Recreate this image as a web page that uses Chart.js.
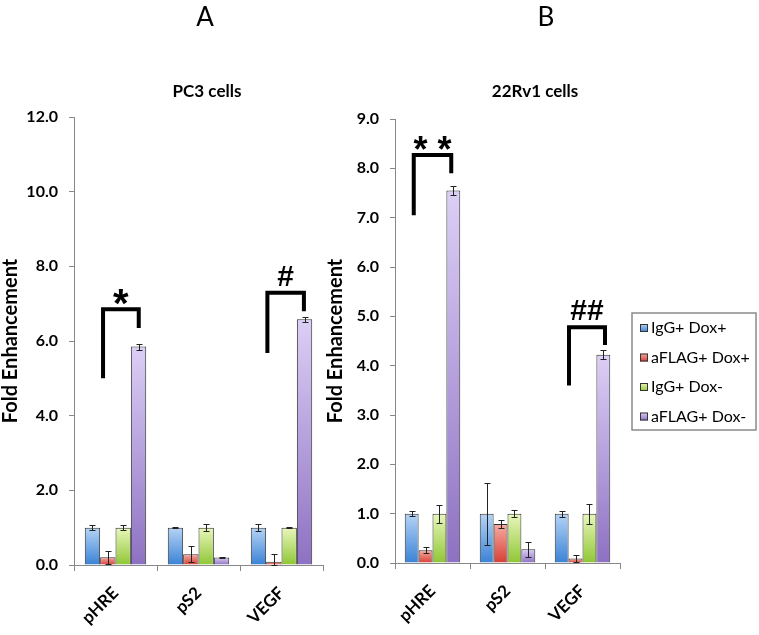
<!DOCTYPE html>
<html>
<head>
<meta charset="utf-8">
<script src="https://cdn.jsdelivr.net/npm/chart.js@4.4.1/dist/chart.umd.min.js"></script>
<style>
  body { margin: 0; background: #fff; }
  #wrap { position: relative; width: 759px; height: 635px; }
  #boxA { position: absolute; left: 0; top: 0; width: 325px; height: 635px; }
  #boxB { position: absolute; left: 325px; top: 0; width: 434px; height: 635px; }
</style>
</head>
<body>
<div id="wrap">
  <div id="boxA"><canvas id="chartA"></canvas></div>
  <div id="boxB"><canvas id="chartB"></canvas></div>
</div>
<script>
// categories and series
const categories = ["pHRE", "pS2", "VEGF"];
const seriesLabels = ["IgG+ Dox+", "aFLAG+ Dox+", "IgG+ Dox-", "aFLAG+ Dox-"];

// PC3 cells (panel A)
const pc3IgGDoxPlus = [1.0, 1.0, 1.0];
const pc3IgGDoxPlusErr = [0.07, 0.01, 0.1];
const pc3FlagDoxPlus = [0.21, 0.29, 0.09];
const pc3FlagDoxPlusErr = [0.17, 0.22, 0.2];
const pc3IgGDoxMinus = [1.0, 1.0, 1.0];
const pc3IgGDoxMinusErr = [0.07, 0.09, 0.01];
const pc3FlagDoxMinus = [5.85, 0.2, 6.58];
const pc3FlagDoxMinusErr = [0.08, 0.02, 0.06];

// 22Rv1 cells (panel B)
const rvIgGDoxPlus = [1.0, 1.0, 1.0];
const rvIgGDoxPlusErr = [0.05, 0.63, 0.06];
const rvFlagDoxPlus = [0.26, 0.79, 0.09];
const rvFlagDoxPlusErr = [0.06, 0.09, 0.07];
const rvIgGDoxMinus = [1.0, 1.0, 1.0];
const rvIgGDoxMinusErr = [0.18, 0.07, 0.2];
const rvFlagDoxMinus = [7.55, 0.28, 4.22];
const rvFlagDoxMinusErr = [0.1, 0.15, 0.09];

// significance brackets: category index, offsets, heights in data units
const bracketsA = [
  { cat: 0, x1: -0.15, x2: 0.28, top: 6.85, left: 5.0, right: 6.35, text: "*", size: 40, gap: 4 },
  { cat: 2, x1: -0.17, x2: 0.27, top: 7.29, left: 5.68, right: 6.8, text: "#", size: 30, gap: 7 }
];
const bracketsB = [
  { cat: 0, x1: -0.25, x2: 0.25, top: 8.27, left: 7.05, right: 7.9, text: "* *", size: 36, gap: 5 },
  { cat: 2, x1: -0.18, x2: 0.3, top: 4.78, left: 3.6, right: 4.42, text: "##", size: 30, gap: 7 }
];

const shades = [
  ["#b6d4f5", "#3a82d6"],
  ["#f6aca3", "#d63f35"],
  ["#e9f7bc", "#8fc635"],
  ["#dccff5", "#8d71c2"]
];

function barFill(pair) {
  return function (ctx) {
    const chart = ctx.chart;
    if (!chart.chartArea || ctx.type !== "data") return pair[1];
    const y = chart.scales.y;
    const v = ctx.dataset.data[ctx.dataIndex];
    const top = y.getPixelForValue(v);
    const base = y.getPixelForValue(0);
    if (base - top < 1) return pair[1];
    const g = chart.ctx.createLinearGradient(0, top, 0, base);
    g.addColorStop(0, pair[0]);
    g.addColorStop(1, pair[1]);
    return g;
  };
}

function makeSets(values, errors) {
  return values.map((vals, i) => ({
    label: seriesLabels[i],
    data: vals,
    errors: errors[i],
    backgroundColor: barFill(shades[i]),
    borderColor: "#333",
    borderWidth: 1,
    categoryPercentage: 0.74,
    barPercentage: 1.0
  }));
}

const errorBars = {
  id: "errorBars",
  afterDatasetsDraw(chart) {
    const ctx = chart.ctx;
    const y = chart.scales.y;
    ctx.save();
    ctx.strokeStyle = "#222";
    ctx.lineWidth = 1;
    chart.data.datasets.forEach((ds, i) => {
      chart.getDatasetMeta(i).data.forEach((bar, j) => {
        const v = ds.data[j], e = ds.errors[j];
        const hi = Math.round(y.getPixelForValue(v + e)) + 0.5;
        const lo = Math.round(y.getPixelForValue(Math.max(0, v - e))) + 0.5;
        const x = Math.round(bar.x) + 0.5;
        ctx.beginPath();
        ctx.moveTo(x, hi); ctx.lineTo(x, lo);
        ctx.moveTo(x - 3, hi); ctx.lineTo(x + 3, hi);
        ctx.moveTo(x - 3, lo); ctx.lineTo(x + 3, lo);
        ctx.stroke();
      });
    });
    ctx.restore();
  }
};

const sigBrackets = {
  id: "sigBrackets",
  afterDraw(chart, args, opts) {
    const ctx = chart.ctx;
    const xs = chart.scales.x, ys = chart.scales.y;
    ctx.save();
    ctx.strokeStyle = "#000";
    ctx.fillStyle = "#000";
    ctx.lineWidth = 4;
    ctx.lineJoin = "miter";
    (opts.items || []).forEach(b => {
      const xl = xs.getPixelForValue(b.cat + b.x1);
      const xr = xs.getPixelForValue(b.cat + b.x2);
      const yt = ys.getPixelForValue(b.top);
      ctx.beginPath();
      ctx.moveTo(xl, ys.getPixelForValue(b.left));
      ctx.lineTo(xl, yt);
      ctx.lineTo(xr, yt);
      ctx.lineTo(xr, ys.getPixelForValue(b.right));
      ctx.stroke();
      ctx.font = "bold " + b.size + "px 'Liberation Sans', Arial, sans-serif";
      ctx.textAlign = "center";
      ctx.textBaseline = "alphabetic";
      const m = ctx.measureText(b.text);
      const h = m.actualBoundingBoxAscent + m.actualBoundingBoxDescent;
      const cy = yt - b.gap - h / 2;
      ctx.fillText(b.text, (xl + xr) / 2, cy + (m.actualBoundingBoxAscent - m.actualBoundingBoxDescent) / 2);
    });
    ctx.restore();
  }
};

const panelText = {
  id: "panelText",
  afterDraw(chart, args, opts) {
    const ctx = chart.ctx;
    ctx.save();
    ctx.fillStyle = "#000";
    ctx.textAlign = "center";
    ctx.textBaseline = "middle";
    (opts.items || []).forEach(t => {
      ctx.font = t.font;
      ctx.fillText(t.text, t.x, t.y);
    });
    if (opts.legend) {
      const L = opts.legend;
      ctx.strokeStyle = "#8a8a8a";
      ctx.lineWidth = 1.5;
      ctx.strokeRect(L.x, L.y, L.w, L.h);
      ctx.font = "16px Lato, 'Open Sans', sans-serif";
      ctx.textAlign = "left";
      seriesLabels.forEach((lab, i) => {
        const cy = L.y + 15 + i * 29.5;
        const g = ctx.createLinearGradient(0, cy - 4, 0, cy + 4);
        g.addColorStop(0, shades[i][0]);
        g.addColorStop(1, shades[i][1]);
        ctx.fillStyle = g;
        ctx.fillRect(L.x + 8, cy - 4, 8, 8);
        ctx.strokeStyle = "#333";
        ctx.lineWidth = 1;
        ctx.strokeRect(L.x + 8.5, cy - 3.5, 7, 7);
        ctx.fillStyle = "#000";
        ctx.fillText(lab, L.x + 19, cy);
      });
    }
    ctx.restore();
  }
};

function axisOptions(max, yWidth, xHeight) {
  return {
    x: {
      offset: true,
      grid: { offset: true, drawOnChartArea: false, tickLength: 6, color: "#888" },
      border: { color: "#888", width: 1 },
      ticks: {
        minRotation: 45, maxRotation: 45, padding: 12, color: "#000",
        font: { family: "Lato", weight: "bold", size: 17 }
      },
      afterFit: s => { s.height = xHeight; }
    },
    y: {
      min: 0, max: max,
      grid: { drawOnChartArea: false, tickLength: 5, color: "#888" },
      border: { color: "#888", width: 1 },
      ticks: {
        stepSize: max > 10 ? 2 : 1, padding: 11, color: "#000",
        font: { family: "Lato", weight: "bold", size: 16 },
        callback: v => v.toFixed(1)
      },
      title: {
        display: true, text: "Fold Enhancement", color: "#000",
        font: { family: "Lato", weight: "bold", size: 20, lineHeight: 1.1 },
        padding: { top: 0, bottom: 0 }
      },
      afterFit: s => { s.width = yWidth; }
    }
  };
}

Chart.defaults.devicePixelRatio = 1;

new Chart(document.getElementById("chartA"), {
  type: "bar",
  data: {
    labels: categories,
    datasets: makeSets(
      [pc3IgGDoxPlus, pc3FlagDoxPlus, pc3IgGDoxMinus, pc3FlagDoxMinus],
      [pc3IgGDoxPlusErr, pc3FlagDoxPlusErr, pc3IgGDoxMinusErr, pc3FlagDoxMinusErr]
    )
  },
  options: {
    responsive: true,
    maintainAspectRatio: false,
    animation: false,
    layout: { padding: { top: 117, right: 2, left: 0, bottom: 0 } },
    scales: axisOptions(12, 74, 70),
    plugins: {
      legend: { display: false },
      tooltip: { enabled: false },
      sigBrackets: { items: bracketsA },
      panelText: {
        items: [
          { text: "A", x: 205, y: 18, font: "26px Lato, sans-serif" },
          { text: "PC3 cells", x: 207, y: 92, font: "bold 17px Lato, sans-serif" }
        ]
      }
    }
  },
  plugins: [errorBars, sigBrackets, panelText]
});

new Chart(document.getElementById("chartB"), {
  type: "bar",
  data: {
    labels: categories,
    datasets: makeSets(
      [rvIgGDoxPlus, rvFlagDoxPlus, rvIgGDoxMinus, rvFlagDoxMinus],
      [rvIgGDoxPlusErr, rvFlagDoxPlusErr, rvIgGDoxMinusErr, rvFlagDoxMinusErr]
    )
  },
  options: {
    responsive: true,
    maintainAspectRatio: false,
    animation: false,
    layout: { padding: { top: 119, right: 139, left: 0, bottom: 0 } },
    scales: axisOptions(9, 70, 72),
    plugins: {
      legend: { display: false },
      tooltip: { enabled: false },
      sigBrackets: { items: bracketsB },
      panelText: {
        items: [
          { text: "B", x: 221, y: 18, font: "26px Lato, sans-serif" },
          { text: "22Rv1 cells", x: 210, y: 92, font: "bold 17px Lato, sans-serif" }
        ],
        legend: { x: 307, y: 313, w: 124, h: 117 }
      }
    }
  },
  plugins: [errorBars, sigBrackets, panelText]
});
</script>
</body>
</html>
